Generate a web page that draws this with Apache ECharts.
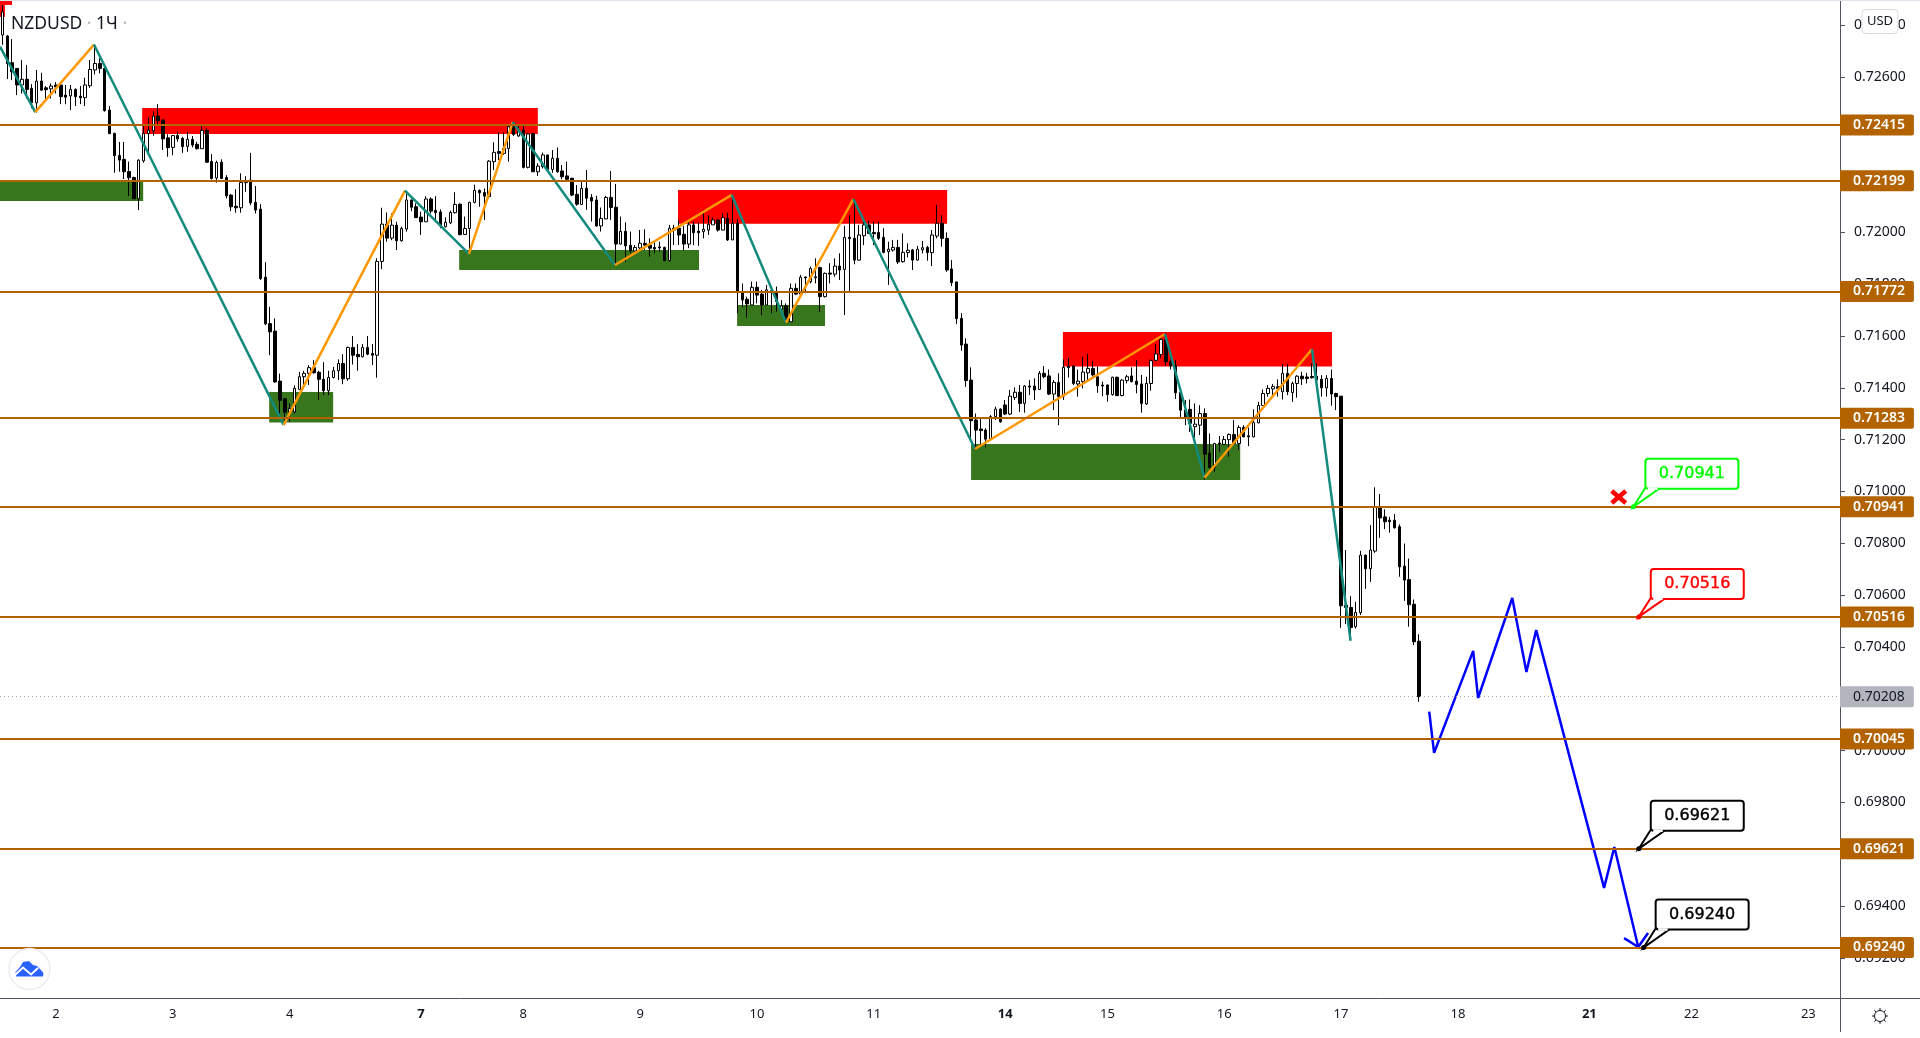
<!DOCTYPE html>
<html>
<head>
<meta charset="utf-8">
<title>NZDUSD</title>
<script src="https://cdn.jsdelivr.net/npm/echarts@6/dist/echarts.min.js"></script>
<style>
html,body{margin:0;padding:0;background:#fff}
#echarts{width:1920px;height:1038px}
</style>
</head>
<body>
<div id="echarts"></div>
<script>
// candles, price x 100000, one per hour
var opens = [72762,72758,72655,72633,72569,72591,72556,72500,72584,72558,72554,72569,72569,72530,72527,72552,72526,72520,72566,72627,
72652,72633,72472,72382,72297,72282,72235,72212,72130,72276,72382,72392,72449,72434,72365,72328,72374,72363,72332,72359,
72340,72323,72394,72274,72210,72271,72212,72144,72101,72095,72192,72202,72116,72090,71827,71648,71619,71426,71358,71307,71307,71394,
71443,71456,71478,71460,71433,71389,71440,71466,71494,71435,71556,71529,71520,71556,71533,71526,71888,72032,71978,72028,71968,72013,72125,72099,72059,72041,72129,72085,72079,72022,72037,72076,72109,71992,72015,72116,72162,72154,72138,72273,72312,72305,72324,72421,72372,72395,72251,72382,72234,72254,72299,72243,72286,72237,72218,72209,72147,72108,
72170,72135,72125,72025,72052,72135,72097,71955,72004,71950,71928,71940,71958,71951,71942,71944,71942,71891,72016,72016,71993,71955,72029,72005,72003,72009,72029,72048,72009,72054,71971,72035,71771,71742,71720,71788,71762,71720,71775,71769,71703,71717,71655,71784,71762,71828,71810,71825,71864,71752,71843,71839,71870,71857,71981,71977,71893,71987,72029,72000,72000,
71981,71926,71932,71942,71887,71922,71932,71893,71933,71942,71922,71986,72035,71977,71859,71809,71668,71569,71430,71276,71241,71237,71202,71289,71318,71334,71299,71363,71383,71340,71407,71407,71394,71456,71446,71376,71421,71368,71483,71484,71415,71424,71458,71475,71443,71411,71411,71374,71441,71370,71428,71446,71426,71415,71338,71417,71506,71529,71587,
71501,71488,71382,71314,71317,71250,71256,71301,71148,71093,71187,71182,71200,71220,71185,71247,71215,71211,71265,71332,71378,71396,71404,71385,71456,71382,71417,71445,71442,71444,71445,71433,71400,71436,71378,71368,70561,70552,70478,70532,70754,70702,70770,70941,70902,70889,70889,70864,70712,70660,70565,70422]
var highs = [72878,72762,72746,72633,72665,72646,72572,72627,72616,72565,72575,72580,72578,72569,72569,72556,72565,72597,72665,72723,
72672,72636,72488,72385,72349,72349,72273,72215,72282,72414,72444,72468,72495,72436,72379,72376,72388,72369,72388,72372,
72350,72410,72401,72302,72277,72282,72221,72148,72167,72228,72217,72307,72179,72109,71885,71713,71668,71455,71361,71340,71410,71462,
71466,71488,71507,71466,71499,71466,71481,71510,71530,71559,71600,71569,71569,71600,71569,71900,72095,72077,72073,72041,72022,72161,72127,72112,72080,72140,72135,72140,72089,72058,72084,72155,72112,72061,72118,72184,72166,72170,72279,72348,72386,72386,72414,72427,72411,72411,72382,72382,72267,72308,72299,72318,72328,72260,72273,72211,72183,72199,
72241,72148,72141,72096,72141,72237,72187,72061,72039,72003,71951,72009,72012,71977,71962,71964,71945,72029,72029,72045,72025,72042,72042,72038,72087,72067,72058,72050,72074,72076,72144,72051,71803,71752,71810,71810,71778,71797,71791,71791,71739,71726,71803,71803,71836,71829,71868,71900,71868,71845,71881,71900,71919,72025,72067,72129,72029,72048,72045,72042,72042,
72016,71964,71971,71971,71996,71958,71936,71948,71967,71948,72009,72106,72067,72000,71893,71809,71688,71591,71479,71301,71282,71244,71295,71327,71321,71353,71392,71402,71411,71411,71430,71437,71465,71484,71471,71430,71456,71510,71516,71488,71471,71520,71531,71504,71482,71424,71413,71443,71443,71433,71450,71479,71507,71450,71443,71510,71569,71591,71610,
71520,71507,71385,71353,71355,71340,71333,71321,71224,71188,71214,71214,71224,71276,71256,71256,71247,71317,71346,71394,71411,71415,71433,71492,71492,71424,71449,71462,71458,71494,71494,71449,71449,71471,71381,71368,70774,70596,70574,70771,70757,70870,71016,70990,70931,70902,70913,70873,70799,70741,70583,70449]
var lows = [72724,72592,72588,72530,72536,72517,72479,72462,72549,72513,72517,72536,72495,72495,72472,72488,72495,72488,72558,72610,
72614,72466,72381,72230,72234,72206,72140,72130,72086,72269,72311,72373,72414,72318,72292,72298,72350,72307,72311,72328,
72320,72323,72269,72204,72192,72207,72131,72082,72076,72076,72157,72105,72073,71816,71642,71526,71419,71301,71256,71269,71301,71391,
71411,71411,71456,71353,71372,71372,71436,71430,71414,71427,71490,71466,71517,71526,71488,71439,71858,71964,71970,71932,71964,72003,72082,72057,71990,72041,72073,72048,72016,72019,72032,72073,71990,71990,71925,72112,72099,72048,72131,72241,72279,72299,72273,72372,72369,72247,72247,72234,72218,72247,72241,72230,72230,72205,72202,72140,72103,72106,
72087,72042,72022,72003,72051,72048,71874,71953,71887,71919,71919,71932,71932,71906,71919,71926,71891,71887,71951,71951,71930,71939,71951,71948,71977,71990,72029,72003,72009,71967,71971,71688,71711,71671,71720,71726,71681,71720,71688,71694,71700,71652,71655,71758,71758,71765,71803,71803,71694,71749,71803,71829,71816,71681,71767,71877,71891,71951,71994,71951,71971,
71919,71797,71926,71878,71883,71904,71855,71891,71919,71891,71870,71977,71945,71848,71793,71646,71543,71404,71199,71162,71175,71170,71199,71276,71265,71295,71295,71353,71307,71304,71372,71353,71392,71437,71372,71314,71256,71353,71440,71411,71366,71398,71430,71443,71381,71368,71347,71370,71368,71368,71417,71421,71379,71304,71334,71389,71504,71514,71486,
71471,71357,71286,71256,71230,71205,71218,71046,71089,71076,71153,71179,71134,71179,71160,71209,71175,71209,71263,71330,71366,71372,71366,71355,71372,71346,71362,71411,71417,71436,71430,71366,71366,71331,71314,70474,70488,70426,70471,70523,70624,70651,70763,70821,70855,70841,70857,70671,70578,70478,70407,70188]
var closes = [72851,72652,72620,72569,72591,72552,72500,72584,72549,72551,72565,72561,72524,72522,72552,72524,72520,72569,72629,72652,
72633,72470,72381,72296,72279,72234,72211,72130,72279,72382,72395,72449,72431,72361,72327,72374,72361,72331,72359,72337,
72323,72394,72271,72208,72270,72208,72141,72099,72095,72193,72199,72114,72086,71822,71647,71616,71423,71352,71306,71320,71398,71443,
71456,71478,71458,71433,71389,71440,71466,71494,71435,71556,71526,71520,71556,71530,71526,71888,72032,71978,72028,71968,72015,72125,72097,72057,72041,72129,72082,72076,72025,72039,72077,72108,71991,72015,72116,72162,72153,72140,72275,72309,72305,72324,72408,72378,72389,72251,72380,72234,72256,72299,72243,72286,72234,72215,72205,72144,72109,72170,
72132,72121,72025,72054,72135,72096,71955,72004,71948,71928,71942,71958,71951,71939,71936,71940,71891,72016,72009,71990,71955,72029,71999,71999,72012,72031,72048,72009,72057,71971,72035,71767,71739,71724,71788,71758,71720,71778,71769,71733,71716,71655,71784,71762,71827,71824,71861,71829,71752,71842,71839,71870,71855,71981,71976,71893,71990,72029,71996,71995,71977,
71923,71935,71942,71886,71923,71931,71893,71935,71941,71922,71990,72035,71977,71855,71806,71667,71565,71428,71273,71237,71235,71202,71289,71318,71269,71299,71368,71383,71340,71407,71403,71392,71456,71443,71376,71421,71366,71479,71478,71417,71426,71461,71475,71450,71408,71407,71374,71441,71370,71430,71443,71424,71413,71340,71417,71505,71531,71587,71501,
71485,71381,71314,71286,71263,71260,71301,71144,71093,71185,71183,71201,71220,71185,71247,71211,71211,71266,71332,71378,71398,71405,71398,71456,71385,71417,71445,71435,71436,71439,71430,71400,71436,71376,71366,70559,70552,70475,70533,70754,70702,70774,70941,70898,70883,70883,70860,70709,70658,70563,70420,70208]

var barSlots = 378

// day labels on the time scale
var tickBars = [11,35,59,86,107,131,155,179,206,227,251,275,299,326,347,371]
var tickLabels = ['2','3','4','7','8','9','10','11','14','15','16','17','18','21','22','23']
var boldLabels = ['7','14','21']

var priceTicks = [0.692,0.694,0.696,0.698,0.700,0.702,0.704,0.706,0.708,0.710,0.712,0.714,0.716,0.718,0.720,0.722,0.724,0.726,0.728]

var levels = [0.72415,0.72199,0.71772,0.71283,0.70941,0.70516,0.70045,0.69621,0.69240]
var lastPrice = 0.70208

// supply and demand boxes: bars, then prices
var zoneStart = [0,0,29.4,0,55.4,94.3,139.1,151.2,217.9,199.1]
var zoneEnd = [2.75,1.3,110.4,29.6,68.5,143.4,194.2,169.2,273,254.2]
var zoneTop = [0.72893,0.72878,0.72480,0.72200,0.71384,0.71932,0.72164,0.71720,0.71616,0.71183]
var zoneBottom = [0.72878,0.72832,0.72380,0.72121,0.71266,0.71855,0.72033,0.71639,0.71482,0.71044]
var zoneColors = ['#ff0000','#ff0000','#ff0000','#38761d','#38761d','#38761d','#ff0000','#38761d','#ff0000','#38761d']

// zigzag pivots, segments alternate teal / orange
var zigzagBars = [0.29,7.51,19.53,58.37,83.2,96.3,105.26,126.2,150.1,161.2,175,199.9,238.8,246.9,268.9,276.8]
var zigzagPrices = [0.72717,0.72464,0.72725,0.71257,0.72161,0.71917,0.72426,0.71874,0.72145,0.71652,0.72129,0.71164,0.71608,0.71053,0.71549,0.70424]

// forecast path
var forecastBars = [292.9,293.9,301.9,302.9,309.9,312.8,314.8,328.7,330.8,335.7]
var forecastPrices = [0.70150,0.69991,0.70385,0.70203,0.70589,0.70303,0.70465,0.69470,0.69628,0.69242]
var arrowBars = [332.8,335.7,337.7]
var arrowPrices = [0.69276,0.69242,0.69296]

var calloutBars = [334.7,335.8,335.8,336.8]
var calloutPrices = [0.70941,0.70516,0.69621,0.69240]
var calloutColors = ['#00ff00','#ff0000','#000000','#000000']

var crossBar = 331.7
var crossPrice = 0.70979

var uiFont = '"Noto Sans", sans-serif'

var categories = []
for (var i = 0; i < barSlots; i++) {
    var t = tickBars.indexOf(i)
    categories.push(t >= 0 ? tickLabels[t] : '')
}

var candleData = opens.map(function (o, i) {
    return [o / 1e5, closes[i] / 1e5, lows[i] / 1e5, highs[i] / 1e5]
})

function isTick(index, value) {
    return value !== ''
}

var series = []

series.push({
    type: 'custom',
    xAxisIndex: 1,
    z: 1,
    silent: true,
    data: zoneStart.map(function (s, i) { return [s, zoneEnd[i], zoneTop[i], zoneBottom[i]] }),
    encode: { x: [0, 1], y: [2, 3] },
    renderItem: function (params, api) {
        var a = api.coord([api.value(0), api.value(2)])
        var b = api.coord([api.value(1), api.value(3)])
        return {
            type: 'rect',
            shape: { x: a[0], y: a[1], width: b[0] - a[0], height: b[1] - a[1] },
            style: { fill: zoneColors[params.dataIndex] }
        }
    }
})

series.push({
    type: 'candlestick',
    z: 2,
    silent: true,
    barWidth: 3,
    data: candleData,
    itemStyle: {
        color: '#ffffff',
        color0: '#000000',
        borderColor: '#000000',
        borderColor0: '#000000',
        borderWidth: 1
    }
})

// horizontal levels and their price tags
series.push({
    type: 'line',
    xAxisIndex: 1,
    z: 3,
    silent: true,
    data: [],
    markLine: {
        silent: true,
        symbol: 'none',
        animation: false,
        precision: 5,
        lineStyle: { color: '#b36200', width: 2, type: 'solid' },
        label: {
            position: 'end',
            distance: 0,
            color: '#ffffff',
            fontFamily: uiFont,
            fontSize: 14,
            fontWeight: 600,
            backgroundColor: '#b36200',
            borderRadius: [0, 2, 2, 0],
            padding: [4, 9, 3, 13],
            formatter: function (p) { return p.value.toFixed(5) }
        },
        data: levels.map(function (v) { return { yAxis: v } })
    }
})

series.push({
    type: 'line',
    xAxisIndex: 1,
    z: 3,
    silent: true,
    data: [],
    markLine: {
        silent: true,
        symbol: 'none',
        animation: false,
        precision: 5,
        lineStyle: { color: '#a0a3ad', width: 1, type: [1, 3] },
        label: {
            position: 'end',
            distance: 0,
            color: '#131722',
            fontFamily: uiFont,
            fontSize: 14,
            backgroundColor: '#b2b5be',
            borderRadius: [0, 2, 2, 0],
            padding: [4, 9, 3, 13],
            formatter: function (p) { return p.value.toFixed(5) }
        },
        data: [{ yAxis: lastPrice }]
    }
})

for (var k = 0; k < zigzagBars.length - 1; k++) {
    series.push({
        type: 'line',
        xAxisIndex: 1,
        z: 4,
        silent: true,
        symbol: 'none',
        lineStyle: { color: k % 2 ? '#ff9800' : '#138a7e', width: 2.5 },
        data: [[zigzagBars[k], zigzagPrices[k]], [zigzagBars[k + 1], zigzagPrices[k + 1]]]
    })
}

series.push({
    type: 'line',
    xAxisIndex: 1,
    z: 4,
    silent: true,
    symbol: 'none',
    lineStyle: { color: '#0000ff', width: 2.5 },
    data: forecastBars.map(function (b, i) { return [b, forecastPrices[i]] })
})
series.push({
    type: 'line',
    xAxisIndex: 1,
    z: 4,
    silent: true,
    symbol: 'none',
    lineStyle: { color: '#0000ff', width: 2.5 },
    data: arrowBars.map(function (b, i) { return [b, arrowPrices[i]] })
})

series.push({
    type: 'custom',
    xAxisIndex: 1,
    z: 5,
    silent: true,
    clip: false,
    data: [[crossBar, crossPrice]],
    encode: { x: 0, y: 1 },
    renderItem: function (params, api) {
        var p = api.coord([api.value(0), api.value(1)])
        var st = { stroke: '#ff0000', lineWidth: 4.5, lineCap: 'butt' }
        return {
            type: 'group',
            children: [
                { type: 'line', shape: { x1: p[0] - 7, y1: p[1] - 6, x2: p[0] + 7, y2: p[1] + 6 }, style: st },
                { type: 'line', shape: { x1: p[0] + 7, y1: p[1] - 6, x2: p[0] - 7, y2: p[1] + 6 }, style: st }
            ]
        }
    }
})

series.push({
    type: 'custom',
    xAxisIndex: 1,
    z: 6,
    silent: true,
    clip: false,
    data: calloutBars.map(function (b, i) { return [b, calloutPrices[i]] }),
    encode: { x: 0, y: 1 },
    renderItem: function (params, api) {
        var p = api.coord([api.value(0), api.value(1)])
        var c = calloutColors[params.dataIndex]
        var x = p[0], y = p[1]
        return {
            type: 'group',
            children: [
                { type: 'polygon', shape: { points: [[x, y], [x + 12, y - 19], [x + 27, y - 19]] }, style: { fill: '#ffffff', stroke: c, lineWidth: 2 } },
                { type: 'rect', shape: { x: x + 12, y: y - 48, width: 93, height: 30, r: 3 }, style: { fill: '#ffffff', stroke: c, lineWidth: 2 } },
                { type: 'line', shape: { x1: x + 14.5, y1: y - 18, x2: x + 24, y2: y - 18 }, style: { stroke: '#ffffff', lineWidth: 2.5 } },
                { type: 'circle', shape: { cx: x, cy: y, r: 2.5 }, style: { fill: c } },
                { type: 'text', x: x + 58.5, y: y - 33, style: { text: api.value(1).toFixed(5), fill: c, stroke: c, lineWidth: 0.4, font: '16px "DejaVu Sans", sans-serif', align: 'center', verticalAlign: 'middle' } }
            ]
        }
    }
})

// gear icon spokes
var gear = [{ type: 'circle', shape: { cx: 1880, cy: 1016, r: 5.5 }, style: { fill: '#fff', stroke: '#131722', lineWidth: 1 } }]
for (var g = 0; g < 8; g++) {
    var ang = g * Math.PI / 4
    gear.push({
        type: 'line',
        shape: {
            x1: 1880 + Math.cos(ang) * 5.5, y1: 1016 + Math.sin(ang) * 5.5,
            x2: 1880 + Math.cos(ang) * 8, y2: 1016 + Math.sin(ang) * 8
        },
        style: { stroke: '#131722', lineWidth: 1 }
    })
}

var option = {
    animation: false,
    backgroundColor: '#ffffff',
    title: {
        left: 6,
        top: 10,
        text: 'NZDUSD {d|·} 1Ч {d|·}',
        textStyle: {
            fontFamily: uiFont,
            fontWeight: 'normal',
            fontSize: 17.5,
            color: '#131722',
            rich: { d: { color: '#b2b5be', fontSize: 17.5, fontFamily: uiFont } }
        }
    },
    grid: { left: -1, right: 80, top: 0, bottom: 40 },
    xAxis: [
        {
            type: 'category',
            data: categories,
            boundaryGap: true,
            axisLine: { lineStyle: { color: '#50535e', width: 1 } },
            axisTick: { alignWithLabel: true, interval: isTick, length: 5, lineStyle: { color: '#50535e' } },
            axisLabel: {
                interval: isTick,
                margin: 10,
                color: '#131722',
                fontFamily: uiFont,
                fontSize: 13,
                formatter: function (v) { return boldLabels.indexOf(v) >= 0 ? '{b|' + v + '}' : v },
                rich: { b: { fontWeight: 'bold', fontSize: 13, color: '#131722', fontFamily: uiFont } }
            },
            splitLine: { show: false }
        },
        { type: 'value', min: 0.29, max: 377, show: false, splitLine: { show: false } }
    ],
    yAxis: {
        type: 'value',
        position: 'right',
        min: 0.69045,
        max: 0.72897,
        scale: true,
        splitLine: { show: false },
        axisLine: { show: true, lineStyle: { color: '#50535e', width: 1 } },
        axisTick: { show: true, length: 5, customValues: priceTicks, lineStyle: { color: '#50535e' } },
        axisLabel: {
            margin: 14,
            padding: [2, 0, 0, 0],
            color: '#131722',
            fontFamily: uiFont,
            fontSize: 14,
            customValues: priceTicks,
            showMinLabel: true,
            showMaxLabel: true,
            formatter: function (v) { return v.toFixed(5) }
        }
    },
    graphic: [
        { type: 'rect', z: 50, shape: { x: 0, y: 0, width: 1920, height: 1 }, style: { fill: '#e0e3eb' } },
        { type: 'line', z: 50, shape: { x1: 1840.5, y1: 998, x2: 1840.5, y2: 1032 }, style: { stroke: '#50535e', lineWidth: 1 } },
        { type: 'line', z: 50, shape: { x1: 1840, y1: 998.5, x2: 1920, y2: 998.5 }, style: { stroke: '#50535e', lineWidth: 1 } },
        { type: 'rect', z: 50, shape: { x: 1862, y: 9.5, width: 36, height: 24, r: 4 }, style: { fill: '#ffffff', stroke: '#d6d9e2', lineWidth: 1 } },
        { type: 'text', z: 51, x: 1880, y: 21.5, style: { text: 'USD', fill: '#131722', font: '13px "Noto Sans", sans-serif', align: 'center', verticalAlign: 'middle' } },
        { type: 'group', z: 50, children: gear },
        { type: 'circle', z: 50, shape: { cx: 29.5, cy: 969, r: 20.5 }, style: { fill: '#ffffff', stroke: '#ececec', lineWidth: 1.5 } },
        { type: 'polygon', z: 51, shape: { points: [[16, 976.5], [15.5, 972], [20, 967], [23, 962], [29, 961], [33, 965], [37, 966], [40, 969], [43.5, 973], [43, 976.5]] }, style: { fill: '#2962ff' } },
        { type: 'polyline', z: 52, shape: { points: [[15, 975], [23, 967.5], [31, 974.5], [38, 968]] }, style: { fill: 'none', stroke: '#ffffff', lineWidth: 2 } }
    ],
    series: series
}

var myChart = echarts.init(document.getElementById('echarts'))
myChart.setOption(option)
</script>
</body>
</html>
